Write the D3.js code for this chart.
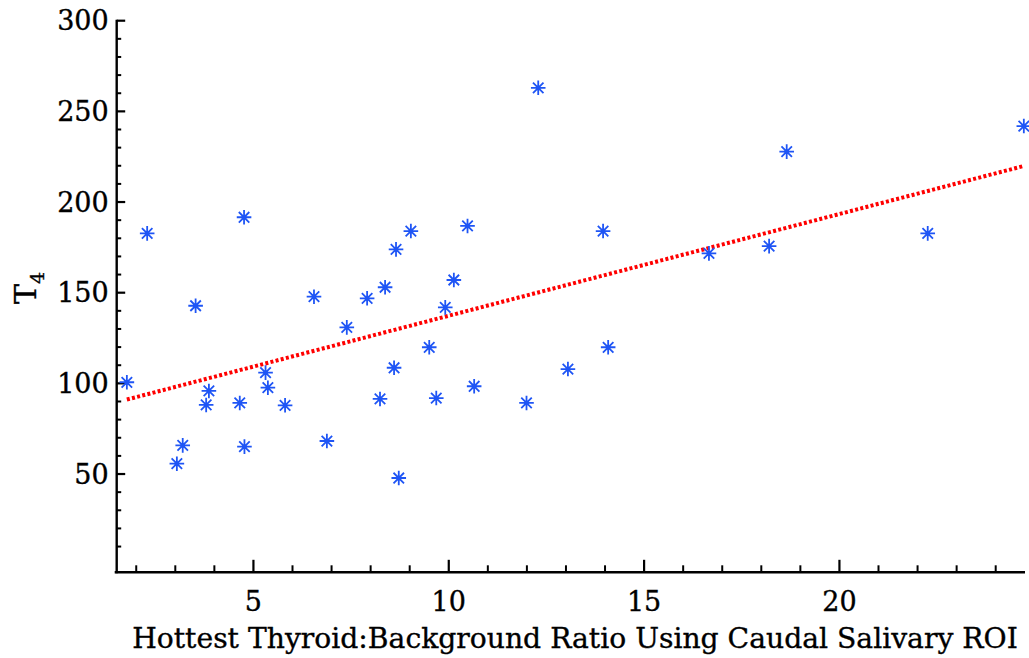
<!DOCTYPE html>
<html>
<head>
<meta charset="utf-8">
<script src="https://cdn.jsdelivr.net/npm/d3@7"></script>
<style>
  body { margin: 0; background: #fff; }
  svg { display: block; }
  text { font-family: "DejaVu Serif", "Liberation Serif", serif; fill: #000; stroke: #000; stroke-width: 0.35px; }
</style>
</head>
<body>
<svg id="chart"></svg>
<script>
// ratio values
const ratio = [1.76, 2.28, 3.04, 3.19, 3.52, 3.79, 3.86, 4.65, 4.76, 4.77,
  5.31, 5.37, 5.81, 6.55, 6.88, 7.39, 7.91, 8.24, 8.37, 8.60,
  8.65, 8.72, 9.03, 9.50, 9.68, 9.91, 10.13, 10.48, 10.65, 11.99,
  12.29, 13.05, 13.95, 14.08, 16.66, 18.20, 18.65, 22.26, 24.72];
const t4 = [100.6, 182.7, 55.7, 65.8, 142.8, 88.1, 95.8, 89.2, 191.6, 65.1,
  105.9, 97.6, 87.9, 147.8, 68.2, 130.9, 146.9, 91.4, 153, 108.6,
  173.9, 47.8, 184, 119.9, 91.9, 141.9, 157, 186.8, 98.4, 89.2,
  263, 107.9, 184, 119.9, 171.7, 175.7, 227.8, 182.7, 241.9];

// fitted line
const fitIntercept = 81.2;
const fitSlope = 5.61;

const xTicks = [5, 10, 15, 20];
const yTicks = [50, 100, 150, 200, 250, 300];

const width = 1029;
const height = 658;

const svg = d3.select("#chart")
  .attr("width", width)
  .attr("height", height);

const x = d3.scaleLinear().domain([1.5, 24.75]).range([116.7, 1025]);
const y = d3.scaleLinear().domain([-4.2, 300]).range([572.3, 20.7]);

// y axis
const yAxis = svg.append("g").attr("transform", `translate(${x.range()[0]},0)`);
yAxis.append("line")
  .attr("y1", y(300) - 1).attr("y2", y.range()[0] + 1)
  .attr("stroke", "#000").attr("stroke-width", 2.4);
yAxis.selectAll(".ymin")
  .data(d3.range(10, 300, 10).filter(v => v % 50 !== 0))
  .enter().append("line")
  .attr("x1", 0).attr("x2", 4.5)
  .attr("y1", d => y(d)).attr("y2", d => y(d))
  .attr("stroke", "#000").attr("stroke-width", 2);
yAxis.selectAll(".ymaj")
  .data(yTicks)
  .enter().append("line")
  .attr("x1", 0).attr("x2", 8.5)
  .attr("y1", d => y(d)).attr("y2", d => y(d))
  .attr("stroke", "#000").attr("stroke-width", 2.2);
yAxis.selectAll(".ylab")
  .data(yTicks)
  .enter().append("text")
  .attr("x", -8)
  .attr("y", d => y(d))
  .attr("dy", "0.36em")
  .attr("text-anchor", "end")
  .style("font-size", "27px")
  .text(d => d);

// x axis
const xAxis = svg.append("g").attr("transform", `translate(0,${y.range()[0]})`);
xAxis.append("line")
  .attr("x1", x.range()[0] - 2).attr("x2", x.range()[1])
  .attr("stroke", "#000").attr("stroke-width", 2.4);
xAxis.selectAll(".xmin")
  .data(d3.range(2, 25, 1).filter(v => v % 5 !== 0))
  .enter().append("line")
  .attr("x1", d => x(d)).attr("x2", d => x(d))
  .attr("y1", 0).attr("y2", -7)
  .attr("stroke", "#000").attr("stroke-width", 2);
xAxis.selectAll(".xmaj")
  .data(xTicks)
  .enter().append("line")
  .attr("x1", d => x(d)).attr("x2", d => x(d))
  .attr("y1", 0).attr("y2", -12.5)
  .attr("stroke", "#000").attr("stroke-width", 2.2);
xAxis.selectAll(".xlab")
  .data(xTicks)
  .enter().append("text")
  .attr("x", d => x(d))
  .attr("y", 38.5)
  .attr("text-anchor", "middle")
  .style("font-size", "27px")
  .text(d => d);

// axis titles
const xTitle = svg.append("text")
  .attr("x", 575)
  .attr("y", 648)
  .attr("text-anchor", "middle")
  .style("font-size", "25px")
  .text("Hottest Thyroid:Background Ratio Using Caudal Salivary ROI");
const w = xTitle.node().getComputedTextLength();
xTitle.style("font-size", (25 * 886 / w) + "px");

const yTitle = svg.append("text")
  .attr("transform", "translate(36,304) rotate(-90)")
  .style("font-size", "30px");
yTitle.append("tspan").text("T");
yTitle.append("tspan")
  .attr("dy", 8)
  .style("font-size", "19px")
  .text("4");

// fit line
const xMin = d3.min(ratio);
const xMax = d3.max(ratio);
svg.append("line")
  .attr("x1", x(xMin)).attr("y1", y(fitIntercept + fitSlope * xMin))
  .attr("x2", x(xMax)).attr("y2", y(fitIntercept + fitSlope * xMax))
  .attr("stroke", "#f00")
  .attr("stroke-width", 4)
  .attr("stroke-dasharray", "3,2.3");

// points as asterisks
const r = 7.3;
const star = `M${-r},0L${r},0M0,${-r}L0,${r}` +
  `M${-r * 0.72},${-r * 0.72}L${r * 0.72},${r * 0.72}` +
  `M${-r * 0.72},${r * 0.72}L${r * 0.72},${-r * 0.72}`;

const pts = svg.append("g")
  .selectAll("g")
  .data(ratio.map((d, i) => [d, t4[i]]))
  .enter()
  .append("g")
  .attr("transform", d => `translate(${x(d[0])},${y(d[1])})`);
pts.append("path")
  .attr("d", star)
  .attr("stroke", "#1f55f5")
  .attr("stroke-width", 1.8)
  .attr("fill", "none");
pts.append("circle")
  .attr("r", 2.2)
  .attr("fill", "#1f55f5");
</script>
</body>
</html>
